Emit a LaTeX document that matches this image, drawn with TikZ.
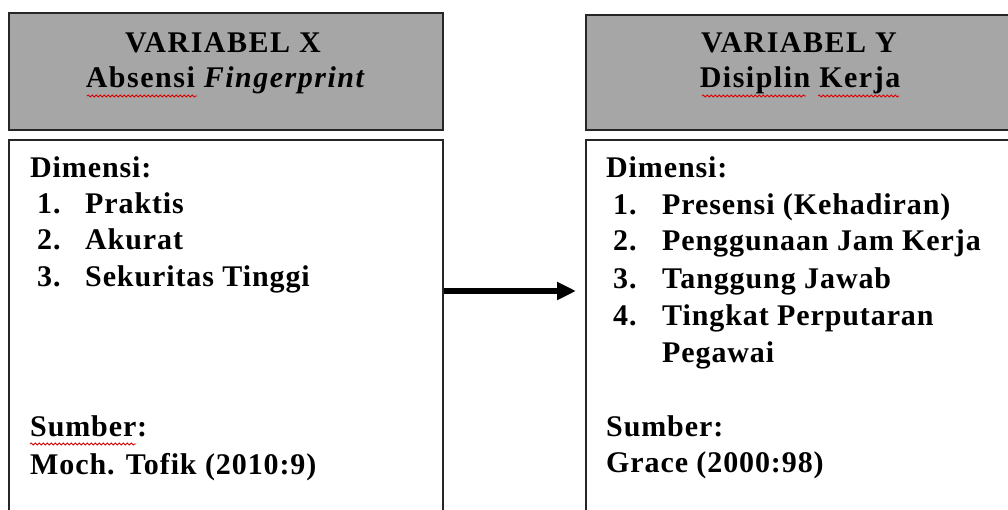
\documentclass[tikz,border=0pt]{standalone}
\usepackage{fontspec}
\setmainfont{Liberation Serif}[LetterSpace=3]
\newfontfamily\headfont{Liberation Serif}[LetterSpace=5]
\usetikzlibrary{arrows.meta,decorations.pathmorphing}
\tikzset{
  headbox/.style={draw=black!85, line width=2pt, fill=headgray, inner sep=0pt},
  bodybox/.style={draw=black!85, line width=2pt, fill=white, inner sep=0pt},
  txt/.style={anchor=base west, inner sep=0pt, font=\fontsize{30}{36}\selectfont\bfseries},
  htxt/.style={anchor=base, inner sep=0pt, font=\headfont\fontsize{30}{36}\selectfont\bfseries},
  spell/.style={draw=red!85!black, line width=0.8pt, decorate, decoration={snake, amplitude=1.1pt, segment length=4pt}},
  bigarrow/.style={line width=6pt, -{Triangle[length=19pt,width=17pt]}}
}
\definecolor{headgray}{RGB}{166,166,166}
\begin{document}
\begin{tikzpicture}[x=1pt,y=-1pt]
\useasboundingbox (0,0) rectangle (1008,510);
\begin{scope}
\clip (0,0) rectangle (1008,510);
% boxes
\node[headbox, minimum width=434pt, minimum height=117pt] (lhead) at (226,71.5) {};
\node[bodybox, minimum width=434pt, minimum height=390pt] (lbody) at (226,335) {};
\node[headbox, minimum width=430pt, minimum height=115pt] (rhead) at (801,72.5) {};
\node[bodybox, minimum width=430pt, minimum height=390pt] (rbody) at (801,335) {};
\end{scope}
% header texts
\node[htxt] (lh1) at (223,53) {VARIABEL X};
\node[htxt] (lh2) at (226,88) {Absensi \textit{Fingerprint}};
\node[htxt] (rh1) at (799,53) {VARIABEL Y};
\node[htxt] (rh2) at (800,88) {Disiplin Kerja};
% left body
\node[txt] (ld) at (30,178) {Dimensi:};
\node[txt] (ln1) at (37,214) {1.};
\node[txt] (li1) at (85,214) {Praktis};
\node[txt] (ln2) at (37,250) {2.};
\node[txt] (li2) at (85,250) {Akurat};
\node[txt] (ln3) at (37,287) {3.};
\node[txt] (li3) at (85,287) {Sekuritas Tinggi};
\node[txt] (ls1) at (30,436) {Sumber:};
\node[txt] (ls2) at (30,474) {Moch. Tofik (2010:9)};
% right body
\node[txt] (rd) at (606,178) {Dimensi:};
\node[txt] (rn1) at (613,215) {1.};
\node[txt] (ri1) at (662,215) {Presensi (Kehadiran)};
\node[txt] (rn2) at (613,251) {2.};
\node[txt] (ri2) at (662,251) {Penggunaan Jam Kerja};
\node[txt] (rn3) at (613,288) {3.};
\node[txt] (ri3) at (662,288) {Tanggung Jawab};
\node[txt] (rn4) at (613,325) {4.};
\node[txt] (ri4) at (662,325) {Tingkat Perputaran};
\node[txt] (ri5) at (662,362) {Pegawai};
\node[txt] (rs1) at (606,436) {Sumber:};
\node[txt] (rs2) at (606,472) {Grace (2000:98)};
% spell-check underlines
\draw[spell] (87,96) -- (197,96);
\draw[spell] (702,96) -- (806,96);
\draw[spell] (818,96) -- (899,96);
\draw[spell] (30,444) -- (136,444);
% arrow
\coordinate (aend) at (576,291);
\draw[bigarrow] (lbody.east |- aend) -- (aend);
\end{tikzpicture}
\end{document}
